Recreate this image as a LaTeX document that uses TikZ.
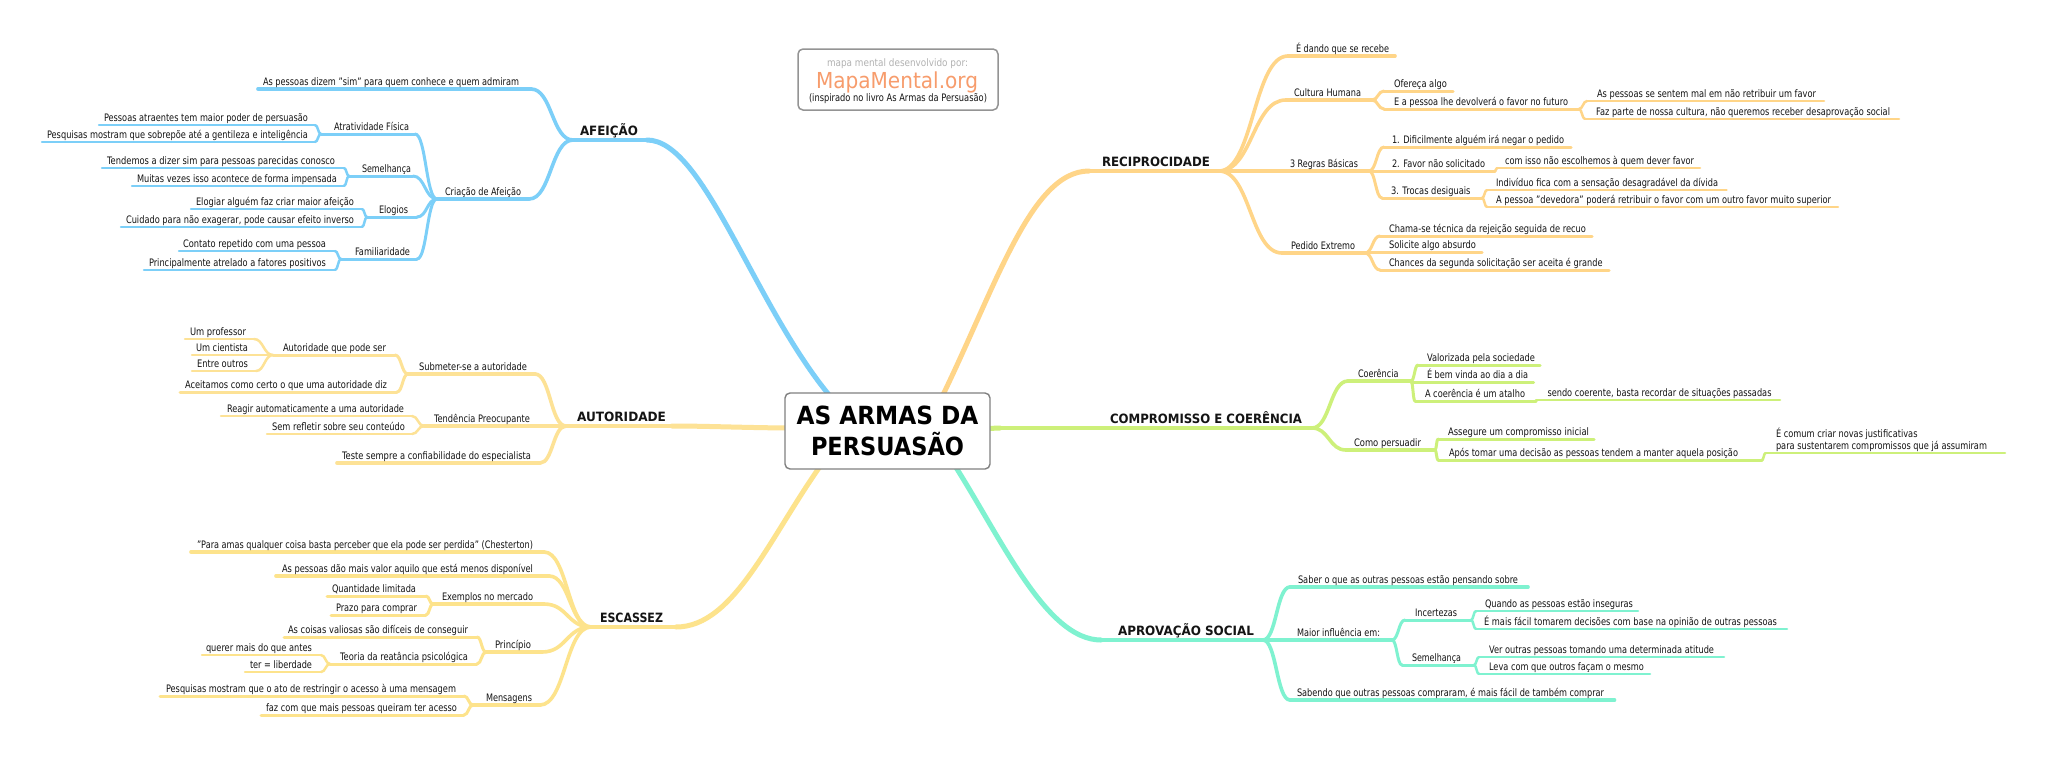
\documentclass[tikz,border=0pt]{standalone}
\usepackage{fontspec}
\setmainfont{DejaVu Sans}
\usetikzlibrary{calc}
\pgfdeclarelayer{bg}
\pgfsetlayers{bg,main}
\definecolor{cafe}{HTML}{7CCFF8}
\definecolor{caut}{HTML}{FDE296}
\definecolor{cesc}{HTML}{FDE38C}
\definecolor{crec}{HTML}{FFD588}
\definecolor{ccom}{HTML}{CDF07A}
\definecolor{capr}{HTML}{7FF2D0}
\definecolor{ink}{HTML}{141414}
\definecolor{cbrand}{HTML}{F79C6C}
\tikzset{
  x=1pt,y=-1pt,
  lbl/.style={anchor=south west,inner sep=0pt,outer sep=0pt,text=ink,text height=9pt,text depth=4pt,font=\fontsize{10.3}{12}\selectfont},
  hd/.style={text depth=5pt,text height=11pt,font=\fontsize{12.8}{15}\selectfont\bfseries},
  afe/.style={draw=cafe,line cap=round},
  aut/.style={draw=caut,line cap=round},
  esc/.style={draw=cesc,line cap=round},
  rec/.style={draw=crec,line cap=round},
  com/.style={draw=ccom,line cap=round},
  apr/.style={draw=capr,line cap=round},
  w0/.style={line width=4.6pt},
  wc/.style={line width=5pt},
  w1/.style={line width=3.6pt},
  w2/.style={line width=3pt},
  w3/.style={line width=2.5pt},
  centre/.style={draw=black!50,fill=white,line width=1.4pt,rounded corners=5pt,minimum width=205pt,minimum height=76pt,inner sep=0pt,align=center,text=black,font=\fontsize{25}{31}\selectfont\bfseries},
  notebox/.style={draw=black!42,fill=white,line width=1.5pt,rounded corners=5pt,minimum width=200pt,minimum height=61pt,inner sep=0pt},
  notetxt/.style={anchor=base,inner sep=0pt},
}
% [node style]{line style}{name}{x1}{x2}{line y}{text left}{text right}{text}
\newcommand\lf[9][]{%
  \node[lbl,#1,minimum width=\dimexpr#5pt-#4pt\relax] (#3) at (#4,#6)
    {\makebox[\dimexpr#5pt-#4pt\relax][l]{\hspace*{\dimexpr#7pt-#4pt\relax}\resizebox{\dimexpr#8pt-#7pt\relax}{\height}{#9}}};
  \begin{pgfonlayer}{bg}\draw[#2] (#3.south west) -- (#3.south east);\end{pgfonlayer}
}
\newcommand\cn[3]{\begin{pgfonlayer}{bg}\draw[#1] let \p1=(#2),\p2=(#3) in (\p1) .. controls ({.5*\x1+.5*\x2},\y1) and ({.5*\x1+.5*\x2},\y2) .. (\p2);\end{pgfonlayer}}
\newcommand\fit[2]{\resizebox{#1pt}{\height}{#2}}
\begin{document}
\begin{tikzpicture}
\useasboundingbox (0,0) rectangle (2048,756);
\begin{pgfonlayer}{bg}
\fill[white] (0,0) rectangle (2048,756);
\end{pgfonlayer}
% centre and note
\node[centre] (main) at (887.5,431) {\fit{182}{AS ARMAS DA}\\\fit{153}{PERSUASÃO}};
\node[notebox] (note) at (898,79.5) {};
\node[notetxt,text=black!30,font=\fontsize{10.3}{12}\selectfont] (noteA) at (897.5,66) {\fit{141}{mapa mental desenvolvido por:}};
\node[notetxt,text=cbrand,font=\fontsize{22}{26}\selectfont] (noteB) at (897,88) {\fit{162}{MapaMental.org}};
\node[notetxt,text=ink,font=\fontsize{10.3}{12}\selectfont] (noteC) at (898,101) {\fit{178}{(inspirado no livro As Armas da Persuasão)}};
\coordinate (eafe) at (835,402);
\coordinate (eaut) at (800,428);
\coordinate (eesc) at (826,458);
\coordinate (erec) at (938,405);
\coordinate (ecom) at (975,429);
\coordinate (eapr) at (950,458);

% AFEICAO
\lf[hd]{afe,w0}{afeicao}{573}{647}{140}{580}{638}{AFEIÇÃO}
\begin{pgfonlayer}{bg}
\draw[afe,wc] (afeicao.south east) .. controls (705,140) and (755,310) .. (eafe);
\end{pgfonlayer}
\lf{afe,w1}{sim}{258}{531}{89}{263}{519}{As pessoas dizem "sim" para quem conhece e quem admiram}
\lf{afe,w1}{criacao}{437}{529}{199}{445}{521}{Criação de Afeição}
\cn{afe,w1}{afeicao.south west}{sim.south east}
\cn{afe,w1}{afeicao.south west}{criacao.south east}
\lf{afe,w2}{atr}{321}{415}{134}{334}{409}{Atratividade Física}
\lf{afe,w2}{sem}{349}{413}{176}{362}{411}{Semelhança}
\lf{afe,w2}{elo}{367}{417}{217}{379}{408}{Elogios}
\lf{afe,w2}{fam}{341}{417}{259}{355}{410}{Familiaridade}
\cn{afe,w2}{criacao.south west}{atr.south east}
\cn{afe,w2}{criacao.south west}{sem.south east}
\cn{afe,w2}{criacao.south west}{elo.south east}
\cn{afe,w2}{criacao.south west}{fam.south east}
\lf{afe,w3}{atrA}{99}{315}{125}{104}{308}{Pessoas atraentes tem maior poder de persuasão}
\lf{afe,w3}{atrB}{42}{315}{142}{47}{308}{Pesquisas mostram que sobrepõe até a gentileza e inteligência}
\cn{afe,w3}{atr.south west}{atrA.south east}
\cn{afe,w3}{atr.south west}{atrB.south east}
\lf{afe,w3}{semA}{102}{344}{168}{107}{335}{Tendemos a dizer sim para pessoas parecidas conosco}
\lf{afe,w3}{semB}{132}{344}{186}{137}{337}{Muitas vezes isso acontece de forma impensada}
\cn{afe,w3}{sem.south west}{semA.south east}
\cn{afe,w3}{sem.south west}{semB.south east}
\lf{afe,w3}{eloA}{191}{362}{209}{196}{354}{Elogiar alguém faz criar maior afeição}
\lf{afe,w3}{eloB}{121}{362}{227}{126}{354}{Cuidado para não exagerar, pode causar efeito inverso}
\cn{afe,w3}{elo.south west}{eloA.south east}
\cn{afe,w3}{elo.south west}{eloB.south east}
\lf{afe,w3}{famA}{179}{335}{251}{183}{326}{Contato repetido com uma pessoa}
\lf{afe,w3}{famB}{144}{335}{270}{149}{326}{Principalmente atrelado a fatores positivos}
\cn{afe,w3}{fam.south west}{famA.south east}
\cn{afe,w3}{fam.south west}{famB.south east}

% AUTORIDADE
\lf[hd]{aut,w0}{autoridade}{566}{672}{426}{577}{666}{AUTORIDADE}
\begin{pgfonlayer}{bg}
\draw[aut,wc] (autoridade.south east) .. controls (710,426) and (750,428) .. (eaut);
\end{pgfonlayer}
\lf{aut,w1}{sub}{408}{535}{374}{419}{527}{Submeter-se a autoridade}
\lf{aut,w1}{ten}{424}{566}{426}{434}{530}{Tendência Preocupante}
\lf{aut,w1}{tes}{337}{540}{463}{342}{531}{Teste sempre a confiabilidade do especialista}
\cn{aut,w1}{autoridade.south west}{sub.south east}
\cn{aut,w1}{autoridade.south west}{tes.south east}
\lf{aut,w2}{que}{273}{395}{355}{283}{386}{Autoridade que pode ser}
\lf{aut,w2}{ace}{180}{397}{392}{185}{387}{Aceitamos como certo o que uma autoridade diz}
\cn{aut,w2}{sub.south west}{que.south east}
\cn{aut,w2}{sub.south west}{ace.south east}
\lf{aut,w3}{prof}{185}{254}{339}{190}{246}{Um professor}
\lf{aut,w3}{cien}{192}{273}{355}{196}{248}{Um cientista}
\lf{aut,w3}{outr}{192}{256}{371}{197}{248}{Entre outros}
\cn{aut,w3}{que.south west}{prof.south east}
\cn{aut,w3}{que.south west}{outr.south east}
\lf{aut,w3}{rea}{221}{412}{416}{227}{404}{Reagir automaticamente a uma autoridade}
\lf{aut,w3}{ref}{267}{412}{434}{272}{405}{Sem refletir sobre seu conteúdo}
\cn{aut,w3}{ten.south west}{rea.south east}
\cn{aut,w3}{ten.south west}{ref.south east}

% ESCASSEZ
\lf[hd]{esc,w0}{escassez}{591}{676}{627}{600}{663}{ESCASSEZ}
\begin{pgfonlayer}{bg}
\draw[esc,wc] (escassez.south east) .. controls (735,627) and (770,535) .. (eesc);
\end{pgfonlayer}
\lf{esc,w1}{ches}{191}{544}{552}{197}{533}{"Para amas qualquer coisa basta perceber que ela pode ser perdida" (Chesterton)}
\lf{esc,w1}{valo}{276}{549}{576}{282}{533}{As pessoas dão mais valor aquilo que está menos disponível}
\lf{esc,w1}{exem}{433}{544}{604}{442}{533}{Exemplos no mercado}
\lf{esc,w1}{prin}{486}{542}{652}{495}{531}{Princípio}
\lf{esc,w1}{mens}{473}{540}{705}{486}{532}{Mensagens}
\cn{esc,w1}{escassez.south west}{ches.south east}
\cn{esc,w1}{escassez.south west}{valo.south east}
\cn{esc,w1}{escassez.south west}{exem.south east}
\cn{esc,w1}{escassez.south west}{prin.south east}
\cn{esc,w1}{escassez.south west}{mens.south east}
\lf{esc,w2}{quan}{327}{426}{596}{332}{416}{Quantidade limitada}
\lf{esc,w2}{praz}{331}{426}{615}{336}{417}{Prazo para comprar}
\cn{esc,w2}{exem.south west}{quan.south east}
\cn{esc,w2}{exem.south west}{praz.south east}
\lf{esc,w2}{cois}{284}{477}{637}{288}{468}{As coisas valiosas são difíceis de conseguir}
\lf{esc,w2}{teor}{330}{477}{664}{340}{468}{Teoria da reatância psicológica}
\cn{esc,w2}{prin.south west}{cois.south east}
\cn{esc,w2}{prin.south west}{teor.south east}
\lf{esc,w3}{quer}{202}{321}{655}{206}{312}{querer mais do que antes}
\lf{esc,w3}{libe}{245}{321}{672}{250}{312}{ter = liberdade}
\cn{esc,w3}{teor.south west}{quer.south east}
\cn{esc,w3}{teor.south west}{libe.south east}
\lf{esc,w2}{pesq}{160}{464}{696}{166}{456}{Pesquisas mostram que o ato de restringir o acesso à uma mensagem}
\lf{esc,w2}{fazc}{261}{464}{715}{266}{457}{faz com que mais pessoas queiram ter acesso}
\cn{esc,w2}{mens.south west}{pesq.south east}
\cn{esc,w2}{mens.south west}{fazc.south east}

% RECIPROCIDADE
\lf[hd]{rec,w0}{recip}{1089}{1219}{171}{1102}{1210}{RECIPROCIDADE}
\begin{pgfonlayer}{bg}
\draw[rec,wc] (recip.south west) .. controls (1030,171) and (995,290) .. (erec);
\end{pgfonlayer}
\lf{rec,w1}{dand}{1288}{1395}{56}{1296}{1389}{É dando que se recebe}
\lf{rec,w1}{cult}{1286}{1372}{100}{1294}{1361}{Cultura Humana}
\lf{rec,w1}{regr}{1219}{1369}{171}{1290}{1358}{3 Regras Básicas}
\lf{rec,w1}{pedi}{1282}{1365}{253}{1291}{1355}{Pedido Extremo}
\cn{rec,w1}{recip.south east}{dand.south west}
\cn{rec,w1}{recip.south east}{cult.south west}
\cn{rec,w1}{recip.south east}{pedi.south west}
\lf{rec,w2}{ofer}{1384}{1453}{91}{1394}{1447}{Ofereça algo}
\lf{rec,w2}{devo}{1384}{1579}{109}{1394}{1568}{E a pessoa lhe devolverá o favor no futuro}
\cn{rec,w2}{cult.south east}{ofer.south west}
\cn{rec,w2}{cult.south east}{devo.south west}
\lf{rec,w3}{sent}{1587}{1824}{101}{1597}{1816}{As pessoas se sentem mal em não retribuir um favor}
\lf{rec,w3}{faz}{1585}{1899}{119}{1596}{1890}{Faz parte de nossa cultura, não queremos receber desaprovação social}
\cn{rec,w3}{devo.south east}{sent.south west}
\cn{rec,w3}{devo.south east}{faz.south west}
\lf{rec,w2}{rA}{1384}{1571}{147}{1392}{1564}{1. Dificilmente alguém irá negar o pedido}
\lf{rec,w2}{rB}{1369}{1495}{171}{1392}{1485}{2. Favor não solicitado}
\lf{rec,w2}{rC}{1382}{1482}{198}{1391}{1470.5}{3. Trocas desiguais}
\cn{rec,w2}{regr.south east}{rA.south west}
\cn{rec,w2}{regr.south east}{rC.south west}
\lf{rec,w3}{isso}{1497}{1700}{168}{1505}{1694}{com isso não escolhemos à quem dever favor}
\cn{rec,w3}{rB.south east}{isso.south west}
\lf{rec,w3}{indi}{1487}{1726.5}{190}{1496}{1718}{Indivíduo fica com a sensação desagradável da dívida}
\lf{rec,w3}{deve}{1487}{1838}{207}{1496}{1831}{A pessoa "devedora" poderá retribuir o favor com um outro favor muito superior}
\cn{rec,w3}{rC.south east}{indi.south west}
\cn{rec,w3}{rC.south east}{deve.south west}
\lf{rec,w2}{cham}{1380}{1592}{236}{1389}{1586}{Chama-se técnica da rejeição seguida de recuo}
\lf{rec,w2}{soli}{1365}{1482}{252}{1389}{1476}{Solicite algo absurdo}
\lf{rec,w2}{chan}{1380}{1609}{270}{1389}{1602.5}{Chances da segunda solicitação ser aceita é grande}
\cn{rec,w2}{pedi.south east}{cham.south west}
\cn{rec,w2}{pedi.south east}{chan.south west}

% COMPROMISSO
\lf[hd]{com,w0}{compro}{1000}{1312}{428}{1110}{1302}{COMPROMISSO E COERÊNCIA}
\begin{pgfonlayer}{bg}
\draw[com,wc] (compro.south west) -- (ecom);
\end{pgfonlayer}
\lf{com,w1}{coer}{1348}{1411}{381}{1358}{1398.5}{Coerência}
\lf{com,w1}{como}{1346}{1435}{450}{1354}{1421}{Como persuadir}
\cn{com,w1}{compro.south east}{coer.south west}
\cn{com,w1}{compro.south east}{como.south west}
\lf{com,w2}{valz}{1418}{1540}{365}{1427}{1535}{Valorizada pela sociedade}
\lf{com,w2}{bemv}{1411}{1533.5}{382}{1427}{1528}{É bem vinda ao dia a dia}
\lf{com,w2}{atal}{1415}{1536}{401}{1425}{1525}{A coerência é um atalho}
\cn{com,w2}{coer.south east}{valz.south west}
\cn{com,w2}{coer.south east}{atal.south west}
\lf{com,w3}{send}{1536}{1780}{400}{1547.5}{1771.5}{sendo coerente, basta recordar de situações passadas}
\lf{com,w2}{asse}{1438}{1594}{439}{1448}{1589}{Assegure um compromisso inicial}
\lf{com,w2}{apos}{1438}{1762}{460}{1449}{1738}{Após tomar uma decisão as pessoas tendem a manter aquela posição}
\cn{com,w2}{como.south east}{asse.south west}
\cn{com,w2}{como.south east}{apos.south west}
\node[lbl,text height=22pt,minimum width=239.5pt] (just) at (1765.5,453)
  {\makebox[239.5pt][l]{\hspace*{10.5pt}\vbox{\baselineskip=11.5pt\hbox{\fit{141.5}{É comum criar novas justificativas}}\hbox{\fit{211}{para sustentarem compromissos que já assumiram}}}}};
\begin{pgfonlayer}{bg}
\draw[com,w3] (just.south west) -- (just.south east);
\end{pgfonlayer}
\cn{com,w3}{apos.south east}{just.south west}

% APROVACAO
\lf[hd]{apr,w0}{aprov}{1101}{1263}{640}{1118}{1254}{APROVAÇÃO SOCIAL}
\begin{pgfonlayer}{bg}
\draw[apr,wc] (aprov.south west) .. controls (1045,640) and (1000,535) .. (eapr);
\end{pgfonlayer}
\lf{apr,w1}{sabe}{1290}{1528}{587}{1298}{1518}{Saber o que as outras pessoas estão pensando sobre}
\lf{apr,w1}{maio}{1263}{1392}{640}{1297}{1380}{Maior influência em:}
\lf{apr,w1}{send2}{1290}{1614.5}{700}{1297}{1604}{Sabendo que outras pessoas compraram, é mais fácil de também comprar}
\cn{apr,w1}{aprov.south east}{sabe.south west}
\cn{apr,w1}{aprov.south east}{send2.south west}
\lf{apr,w2}{ince}{1405}{1471}{620}{1415}{1457}{Incertezas}
\lf{apr,w2}{seme}{1402}{1474}{665}{1412}{1461}{Semelhança}
\cn{apr,w2}{maio.south east}{ince.south west}
\cn{apr,w2}{maio.south east}{seme.south west}
\lf{apr,w3}{quan2}{1476}{1638}{611}{1485}{1633}{Quando as pessoas estão inseguras}
\lf{apr,w3}{faci}{1476}{1787}{629}{1484}{1777}{É mais fácil tomarem decisões com base na opinião de outras pessoas}
\cn{apr,w3}{ince.south east}{quan2.south west}
\cn{apr,w3}{ince.south east}{faci.south west}
\lf{apr,w3}{verO}{1479}{1724}{657}{1489}{1714}{Ver outras pessoas tomando uma determinada atitude}
\lf{apr,w3}{leva}{1479}{1650}{674}{1489}{1644}{Leva com que outros façam o mesmo}
\cn{apr,w3}{seme.south east}{verO.south west}
\cn{apr,w3}{seme.south east}{leva.south west}
\end{tikzpicture}
\end{document}
